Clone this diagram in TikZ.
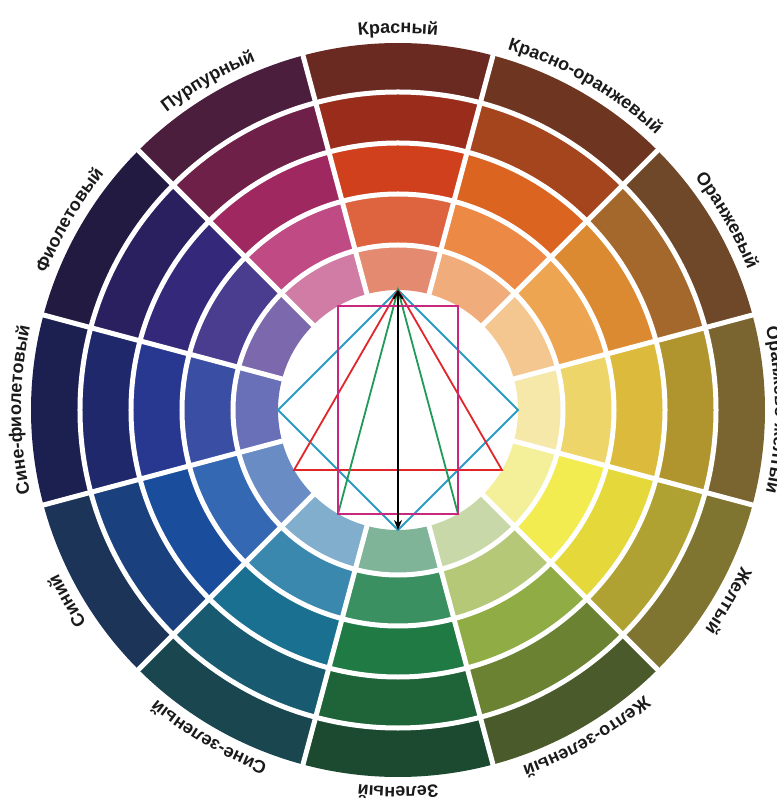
\documentclass[tikz,border=0pt]{standalone}
\usepackage{fontspec}
\setmainfont{Liberation Sans}
\usetikzlibrary{arrows.meta, decorations.text}
% hue colours, 1 = outer ring ... 5 = inner ring
\definecolor{kr1}{HTML}{6A2A22}\definecolor{kr2}{HTML}{9A2C1C}\definecolor{kr3}{HTML}{D0401C}\definecolor{kr4}{HTML}{DE6440}\definecolor{kr5}{HTML}{E48A70}
\definecolor{ko1}{HTML}{6E3520}\definecolor{ko2}{HTML}{A5451E}\definecolor{ko3}{HTML}{DB6420}\definecolor{ko4}{HTML}{EC8A45}\definecolor{ko5}{HTML}{F0AC7A}
\definecolor{or1}{HTML}{6E4828}\definecolor{or2}{HTML}{A5682C}\definecolor{or3}{HTML}{DC8A32}\definecolor{or4}{HTML}{EEA552}\definecolor{or5}{HTML}{F4C690}
\definecolor{oz1}{HTML}{7A6430}\definecolor{oz2}{HTML}{B0942E}\definecolor{oz3}{HTML}{DCBA3C}\definecolor{oz4}{HTML}{EED56A}\definecolor{oz5}{HTML}{F6E8A8}
\definecolor{zh1}{HTML}{807530}\definecolor{zh2}{HTML}{B0A232}\definecolor{zh3}{HTML}{E4D83A}\definecolor{zh4}{HTML}{F2EC50}\definecolor{zh5}{HTML}{F4F09A}
\definecolor{zz1}{HTML}{4A5A2A}\definecolor{zz2}{HTML}{6A8232}\definecolor{zz3}{HTML}{90AC44}\definecolor{zz4}{HTML}{B4C878}\definecolor{zz5}{HTML}{C8D8A8}
\definecolor{ze1}{HTML}{1C4A30}\definecolor{ze2}{HTML}{1E6438}\definecolor{ze3}{HTML}{1F7A44}\definecolor{ze4}{HTML}{3A9060}\definecolor{ze5}{HTML}{80B498}
\definecolor{sz1}{HTML}{1A4650}\definecolor{sz2}{HTML}{185A70}\definecolor{sz3}{HTML}{1A7090}\definecolor{sz4}{HTML}{3A88AE}\definecolor{sz5}{HTML}{80AECC}
\definecolor{si1}{HTML}{1C3458}\definecolor{si2}{HTML}{1A407E}\definecolor{si3}{HTML}{1A4E9C}\definecolor{si4}{HTML}{3468B2}\definecolor{si5}{HTML}{6A8CC4}
\definecolor{sf1}{HTML}{1C2050}\definecolor{sf2}{HTML}{1E286A}\definecolor{sf3}{HTML}{283890}\definecolor{sf4}{HTML}{3A4EA4}\definecolor{sf5}{HTML}{6A70B8}
\definecolor{fi1}{HTML}{221A40}\definecolor{fi2}{HTML}{2A2060}\definecolor{fi3}{HTML}{34287A}\definecolor{fi4}{HTML}{4A3C8E}\definecolor{fi5}{HTML}{7C68AC}
\definecolor{pu1}{HTML}{4A1E3C}\definecolor{pu2}{HTML}{6E2048}\definecolor{pu3}{HTML}{A02860}\definecolor{pu4}{HTML}{C04A84}\definecolor{pu5}{HTML}{D07CA4}
\definecolor{lblgray}{HTML}{1A1A1A}
\definecolor{tcolor}{HTML}{E0262A}
\definecolor{scolor}{HTML}{1E9A5A}
\definecolor{qcolor}{HTML}{2B9AC4}
\definecolor{rcolor}{HTML}{C8287E}
\newcommand{\lblfont}{\fontsize{18pt}{20pt}\selectfont\bfseries\color{lblgray}}
\newcommand{\huelabel}[2]{\path[decorate, decoration={text along path, text={|\lblfont|#2}, text align=center}] (#1+40:377) arc[start angle=#1+40, end angle=#1-40, radius=377];}

\begin{document}
\begin{tikzpicture}[x=1pt, y=1pt,
    gap/.style={white, line width=5pt},
    scheme/.style={line width=1.8pt, line join=miter},
    arr/.style={{Stealth[length=10pt, width=8pt]}-{Straight Barb[length=7pt, width=9pt]}, line width=2pt, black},
  ]
    \useasboundingbox (-398,-392) rectangle (378,410);

    % colour cells
    \foreach \ang/\hue in {90/kr, 60/ko, 30/or, 0/oz, -30/zh, -60/zz, -90/ze, -120/sz, -150/si, -180/sf, -210/fi, -240/pu}
      \foreach \i/\ri/\ro in {1/318/367, 2/267/318, 3/216/267, 4/165/216, 5/120/165}
        \fill[\hue\i] (\ang-15:\ri) arc[start angle=\ang-15, end angle=\ang+15, radius=\ri]
          -- (\ang+15:\ro) arc[start angle=\ang+15, end angle=\ang-15, radius=\ro] -- cycle;

    % white gaps
    \foreach \r in {165, 216, 267, 318}
      \draw[gap] (0,0) circle[radius=\r];
    \foreach \a in {15, 45, ..., 345}
      \draw[gap] (\a:117) -- (\a:368);

    % labels
    \huelabel{90}{Красный}
    \huelabel{60}{Красно-оранжевый}
    \huelabel{30}{Оранжевый}
    \huelabel{0}{Оранжево-желтый}
    \huelabel{-30}{Желтый}
    \huelabel{-60}{Желто-зеленый}
    \huelabel{-90}{Зеленый}
    \huelabel{-120}{Сине-зеленый}
    \huelabel{-150}{Синий}
    \huelabel{-180}{Сине-фиолетовый}
    \huelabel{-210}{Фиолетовый}
    \huelabel{-240}{Пурпурный}

    % points on the inner circle
    \coordinate (p0) at (0:120);
    \coordinate (p60) at (60:120);
    \coordinate (p90) at (90:120);
    \coordinate (p120) at (120:120);
    \coordinate (p180) at (180:120);
    \coordinate (p210) at (210:120);
    \coordinate (p240) at (240:120);
    \coordinate (p270) at (270:120);
    \coordinate (p300) at (300:120);
    \coordinate (p330) at (330:120);

    % harmony schemes
    \draw[scheme, qcolor] (p90) -- (p180) -- (p270) -- (p0) -- cycle;
    \draw[scheme, tcolor] (p90) -- (p210) -- (p330) -- cycle;
    \draw[scheme, scolor] (p90) -- (p240) -- (p300) -- cycle;
    \draw[scheme, rcolor] (p60) -- (p120) -- (p240) -- (p300) -- cycle;
    \draw[arr] (p270) -- (p90);
  \end{tikzpicture}
\end{document}
